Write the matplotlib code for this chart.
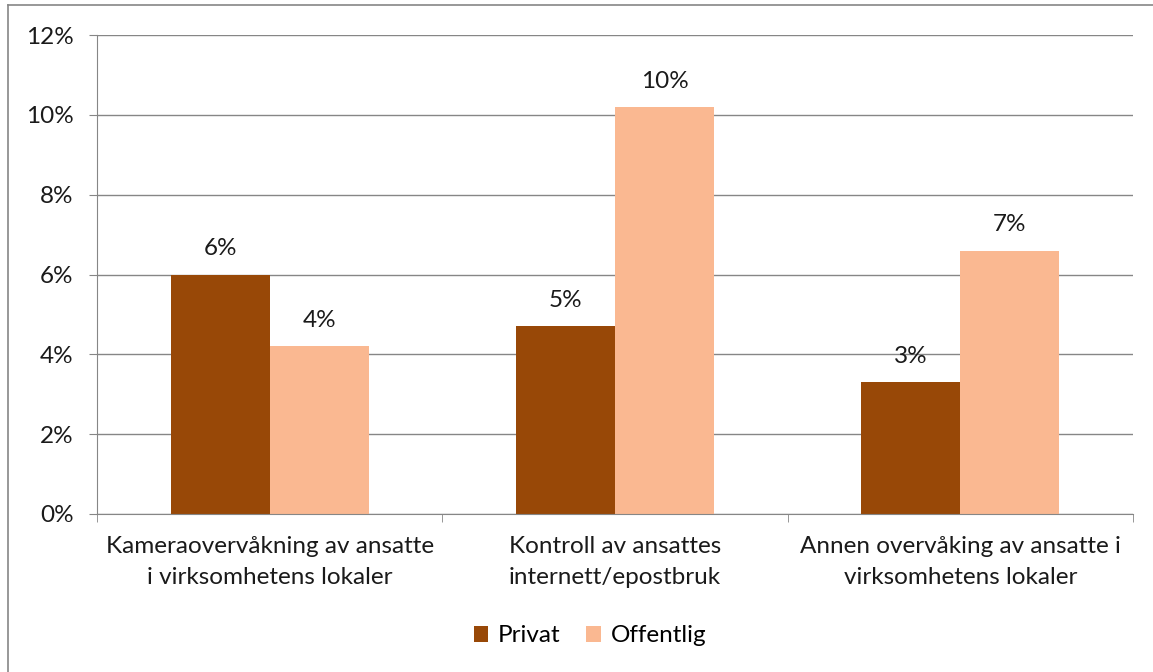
import matplotlib.pyplot as plt
from matplotlib.lines import Line2D
import numpy as np

categories = [
    "Kameraovervåkning av ansatte\ni virksomhetens lokaler",
    "Kontroll av ansattes\ninternett/epostbruk",
    "Annen overvåking av ansatte i\nvirksomhetens lokaler",
]
privat = [6.0, 4.7, 3.3]
offentlig = [4.2, 10.2, 6.6]
series_names = ["Privat", "Offentlig"]
yticks = [0, 2, 4, 6, 8, 10, 12]

plt.rcParams['font.family'] = ['Lato', 'DejaVu Sans']
grey = "#868686"
fs = 17.5

fig = plt.figure(figsize=(11.53, 6.72), dpi=100)
ax = fig.add_axes([97 / 1153, 1 - 514 / 672, (1133 - 97) / 1153, (514 - 35) / 672])

x = np.arange(len(categories))
w = 0.287
b1 = ax.bar(x - w / 2, privat, w, color="#984807", label=series_names[0], zorder=2)
b2 = ax.bar(x + w / 2, offentlig, w, color="#FAB891", label=series_names[1], zorder=2)

for bars in (b1, b2):
    ax.bar_label(bars, labels=[f"{v:.0f}%" for v in bars.datavalues],
                 padding=11, fontsize=fs, color="#1a1a1a")

ax.set_xlim(-0.5, 2.5)
ax.set_ylim(0, 12)
ax.set_yticks(yticks)
ax.set_yticklabels([f"{v}%" for v in yticks], fontsize=fs, color="#1a1a1a")
ax.yaxis.grid(True, color=grey, lw=1, zorder=0)
ax.tick_params(axis="y", length=6, color=grey, pad=11)

ax.set_xticks(x)
ax.set_xticklabels(categories, fontsize=fs, color="#1a1a1a", linespacing=1.55)
ax.set_xticks([-0.5, 0.5, 1.5, 2.5], minor=True)
ax.tick_params(axis="x", which="major", length=0, pad=16)
ax.tick_params(axis="x", which="minor", length=6, color=grey)

for s in ("top", "right"):
    ax.spines[s].set_visible(False)
for s in ("left", "bottom"):
    ax.spines[s].set_color(grey)

fig.legend(loc="center", bbox_to_anchor=(590 / 1153, 1 - 636 / 672), ncol=2,
           frameon=False, fontsize=fs, handlelength=0.6, handleheight=0.6,
           handletextpad=0.4, columnspacing=1.05)

# outer chart border
fig.add_artist(Line2D([8 / 1153, 1], [1 - 5 / 672, 1 - 5 / 672], color=grey, lw=1.2,
                      transform=fig.transFigure))
fig.add_artist(Line2D([8 / 1153, 8 / 1153], [0, 1 - 5 / 672], color=grey, lw=1.2,
                      transform=fig.transFigure))

fig.savefig("out.png", dpi=100)
